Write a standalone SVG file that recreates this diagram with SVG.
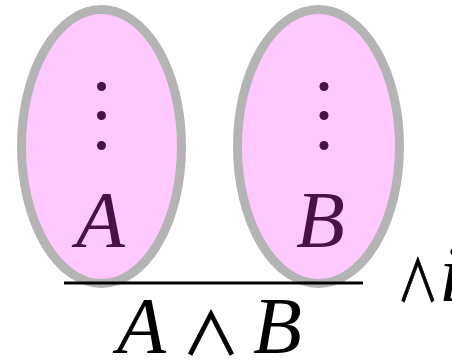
<svg xmlns="http://www.w3.org/2000/svg" width="452" height="361" viewBox="0 0 452 361">
<style>
.set{fill:#ffc8ff;stroke:#b4b4b4;stroke-width:9}
.dot{fill:#4a1048}
.lab{font-family:"Liberation Serif",serif;font-style:italic;font-size:80px;fill:#4a1048}
.blk{font-family:"Liberation Serif",serif;font-style:italic;font-size:80px;fill:#000}
.op{font-family:"Noto Sans CJK JP",sans-serif;font-size:58px;fill:#000;stroke:#000;stroke-width:0.8}
</style>
<rect width="452" height="361" fill="#fff"/>
<g id="setA">
<ellipse class="set" cx="101.5" cy="146.5" rx="80" ry="137"/>
<circle class="dot" cx="101.5" cy="86.5" r="4.5"/>
<circle class="dot" cx="101.5" cy="115.5" r="4.5"/>
<circle class="dot" cx="101.5" cy="145.5" r="4.5"/>
<text class="lab" x="76" y="247">A</text>
</g>
<g id="setB">
<ellipse class="set" cx="318.5" cy="146.5" rx="81" ry="137"/>
<circle class="dot" cx="324" cy="86.5" r="4.5"/>
<circle class="dot" cx="324" cy="115.5" r="4.5"/>
<circle class="dot" cx="324" cy="145.5" r="4.5"/>
<text class="lab" x="296" y="247">B</text>
</g>
<g id="connectors">
<line x1="64" y1="283" x2="363" y2="283" stroke="#000" stroke-width="3"/>
</g>
<g id="conclusion">
<text class="blk" x="117" y="353">A</text>
<text class="op" x="182" y="355">∧</text>
<text class="blk" x="253" y="353">B</text>
</g>
<g id="rule">
<text class="op" transform="translate(397,302) scale(0.72,1)">∧</text>
<text class="blk" x="439" y="301" font-size="46">i</text>
</g>
</svg>
